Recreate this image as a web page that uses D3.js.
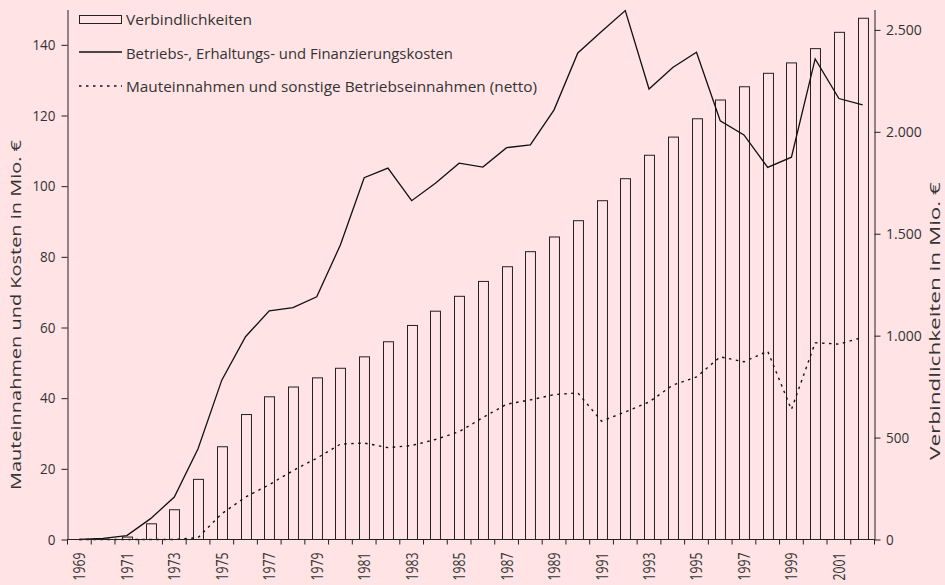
<!DOCTYPE html>
<html><head><meta charset="utf-8">
<script src="https://cdn.jsdelivr.net/npm/d3@7"></script>
<style>
html,body{margin:0;padding:0;background:#ffe3e5;}
svg{display:block;font-family:"Open Sans",sans-serif;}
</style></head>
<body>
<svg id="c" width="945" height="585"></svg>
<script>
const years = d3.range(1969, 2003).map(String);
const debt = [0,2,12,77,146,295,455,613,700,748,793,840,896,970,1050,1120,1193,1266,1338,1412,1484,1564,1662,1770,1885,1974,2064,2156,2221,2287,2338,2408,2488,2557];
const costs = [0,0.3,1.1,5.9,12,25.7,45.1,57.4,64.7,65.6,68.7,83.4,102.4,105.1,95.9,100.8,106.5,105.4,110.9,111.7,121.6,137.7,143.8,149.7,127.5,133.6,137.9,118.5,114.5,105.3,108.2,136,124.8,123];
const revenue = [0,0,0,0,0,0.5,7.3,12,15.5,19.5,23,27,27.3,26,26.6,28.3,30.5,34.5,38.3,39.5,41,41.5,33.5,36.1,38.9,43.7,46,51.7,50.3,53.3,36.8,55.7,55.3,57.2];
const leftTicks = [0,20,40,60,80,100,120,140];
const rightTicks = [0,500,1000,1500,2000,2500];
const xLabels = years.filter((y,i)=>i%2===0);
const legendLabels = ["Verbindlichkeiten","Betriebs-, Erhaltungs- und Finanzierungskosten","Mauteinnahmen und sonstige Betriebseinnahmen (netto)"];
const leftTitle = "Mauteinnahmen und Kosten in Mio. €";
const rightTitle = "Verbindlichkeiten in Mio. €";

const L=67.5, R=874.5, T=9.5, B=539.5;
const ink="#222", txt="#333";
const svg=d3.select("#c");
const x=d3.scaleBand().domain(years).range([L,R]).padding(0);
const yL=d3.scaleLinear().domain([0,150]).range([B,T]);
const yR=d3.scaleLinear().domain([0,2600]).range([B,T]);
const de=d3.formatLocale({decimal:",",thousands:".",grouping:[3],currency:["","€"]});
const fmt=de.format(",d");
const bw=x.bandwidth()*0.42;

// bars
svg.append("g").selectAll("rect").data(debt).join("rect")
  .attr("x",(d,i)=>Math.round(x(years[i])+x.bandwidth()/2-bw/2)+0.5)
  .attr("y",d=>yR(d))
  .attr("width",bw).attr("height",d=>yR(0)-yR(d))
  .attr("fill","none").attr("stroke",ink).attr("stroke-width",1);

const cx=(i)=>x(years[i])+x.bandwidth()/2;
svg.append("path").datum(costs)
  .attr("d",d3.line().x((d,i)=>cx(i)).y(d=>yL(d)))
  .attr("fill","none").attr("stroke","#111").attr("stroke-width",1.3);
svg.append("path").datum(revenue)
  .attr("d",d3.line().x((d,i)=>cx(i)).y(d=>yL(d)))
  .attr("fill","none").attr("stroke","#111").attr("stroke-width",1.4).attr("stroke-dasharray","2.5,4.5");

// left axis
const gl=svg.append("g").attr("transform",`translate(${L},0)`)
  .call(d3.axisLeft(yL).tickValues(leftTicks).tickSize(6).tickPadding(6).tickSizeOuter(0));
// right axis
const gr=svg.append("g").attr("transform",`translate(${R},0)`)
  .call(d3.axisRight(yR).tickValues(rightTicks).tickSize(6).tickPadding(5.5).tickSizeOuter(0).tickFormat(fmt));
// x axis
const gx=svg.append("g").attr("transform",`translate(0,${B})`);
gx.append("line").attr("x1",L).attr("x2",R).attr("stroke",ink);
gx.selectAll("line.t").data(years.concat(["end"])).join("line").attr("class","t")
  .attr("x1",(d,i)=>L+i*x.step()).attr("x2",(d,i)=>L+i*x.step())
  .attr("y1",0).attr("y2",5).attr("stroke",ink);
gx.selectAll("text").data(xLabels).join("text")
  .attr("transform",d=>`translate(${cx(years.indexOf(d))+6},13) rotate(-90)`)
  .attr("text-anchor","end").attr("font-size",15.5).attr("fill",txt)
  .attr("textLength",28).attr("lengthAdjust","spacingAndGlyphs").text(d=>d);

[gl,gr].forEach(g=>{
  g.selectAll("path.domain").attr("stroke",ink);
  g.selectAll(".tick line").attr("stroke",ink);
  g.selectAll("text").attr("font-size",15).attr("fill",txt).attr("font-family","Open Sans, sans-serif")
    .attr("lengthAdjust","spacingAndGlyphs")
    .attr("textLength",function(){const s=this.textContent;return s.replace(/\./g,"").length*7.7+(s.includes(".")?5:0);});
});

// titles
svg.append("text").attr("transform","translate(21,315) rotate(-90)").attr("text-anchor","middle")
  .attr("font-size",14.5).attr("fill",txt).attr("textLength",350).attr("lengthAdjust","spacingAndGlyphs").text(leftTitle);
svg.append("text").attr("transform","translate(940,182) rotate(-90)").attr("text-anchor","end")
  .attr("font-size",14).attr("fill",txt).attr("textLength",278).attr("lengthAdjust","spacingAndGlyphs").text(rightTitle);

// legend
const lg=svg.append("g");
lg.append("rect").attr("x",79.5).attr("y",15.5).attr("width",42).attr("height",8).attr("fill","none").attr("stroke",ink);
lg.append("line").attr("x1",79).attr("x2",122).attr("y1",52).attr("y2",52).attr("stroke","#111").attr("stroke-width",1.3);
lg.append("line").attr("x1",79).attr("x2",122).attr("y1",86).attr("y2",86).attr("stroke","#111").attr("stroke-width",1.4).attr("stroke-dasharray","2.5,4.5");
const legLen=[126,327,411];
lg.selectAll("text").data(legendLabels).join("text")
  .attr("x",126).attr("y",(d,i)=>25+i*33.5).attr("font-size",15).attr("fill",txt)
  .attr("textLength",(d,i)=>legLen[i]).attr("lengthAdjust","spacingAndGlyphs").text(d=>d);
</script>
</body></html>
